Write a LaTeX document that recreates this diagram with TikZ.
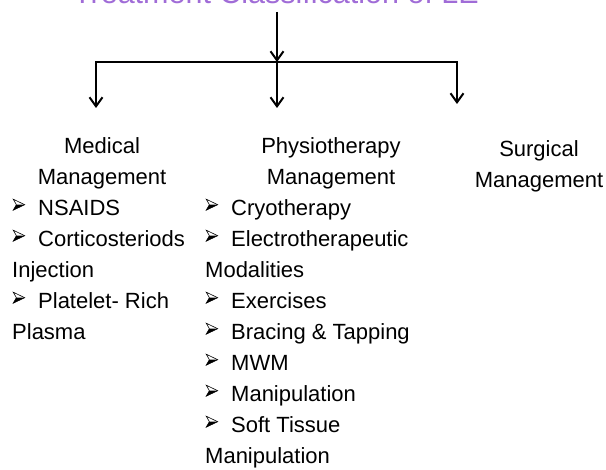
\documentclass[tikz,border=0pt]{standalone}
\usepackage{fontspec}
\setmainfont{Liberation Sans}
\usetikzlibrary{arrows.meta}
\definecolor{titlepurple}{RGB}{160,108,215}
\newcommand\bu{\makebox[26pt][l]{\tikz[baseline=0pt,x=1pt,y=1pt]{%
  \path[use as bounding box] (0,0) rectangle (13,16);
  \draw[line width=0.6pt, line join=miter] (1,16) -- (12.5,10.5) -- (1,5) -- (4.2,10.5) -- cycle;
  \fill (4.2,10.5) -- (12.5,10.5) -- (1,5) -- cycle;}}}
\tikzset{
  txt/.style={inner sep=0pt, font=\fontsize{22}{31}\selectfont},
  hdr/.style={txt, align=center, anchor=north},
  lst/.style={txt, align=left, anchor=north west},
  conn/.style={line width=2pt, -{Straight Barb[length=9pt,width=13pt]}},
  bar/.style={line width=2pt, line cap=rect}
}
\begin{document}
\begin{tikzpicture}[x=1pt,y=-1pt]
\useasboundingbox (0,0) rectangle (606,470);
\node[inner sep=0pt, anchor=base, text=titlepurple, font=\fontsize{30.5}{36}\selectfont] (title) at (276,4) {Treatment Classification of LE};
\coordinate (top) at (277,12);
\coordinate (j) at (277,62);
\coordinate (jl) at (96,62);
\coordinate (jr) at (457,62);
\coordinate (el) at (96,108);
\coordinate (em) at (277,108);
\coordinate (er) at (457,104);
\draw[conn] (top) -- (j);
\draw[bar] (jl) -- (jr);
\draw[conn] (jl) -- (el);
\draw[conn] (j) -- (em);
\draw[conn] (jr) -- (er);
\node[hdr] (med) at (102,131.3) {\strut Medical\\Management};
\node[hdr] (phys) at (331,131.3) {\strut Physiotherapy\\Management};
\node[hdr] (surg) at (539,134.3) {\strut Surgical\\Management};
\node[lst] (medlist) at (12,193.3) {\strut\bu NSAIDS\\
\bu Corticosteriods\\
Injection\\
\bu Platelet- Rich\\
Plasma};
\node[lst] (physlist) at (205,193.3) {\strut\bu Cryotherapy\\
\bu Electrotherapeutic\\
Modalities\\
\bu Exercises\\
\bu Bracing \& Tapping\\
\bu MWM\\
\bu Manipulation\\
\bu Soft Tissue\\
Manipulation};
\end{tikzpicture}
\end{document}
